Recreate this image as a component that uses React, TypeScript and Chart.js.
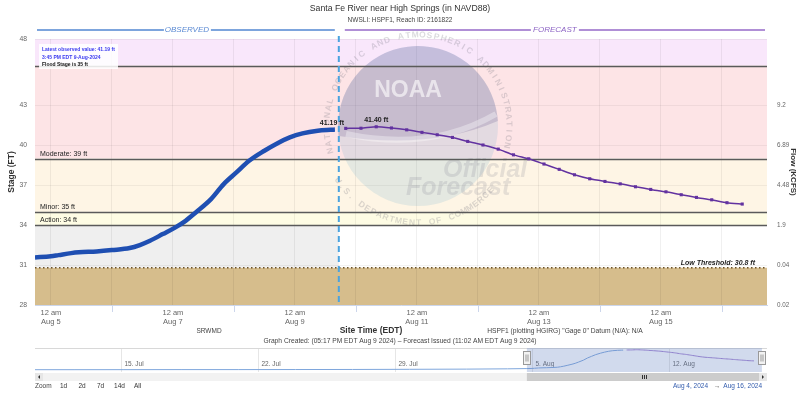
import React, { useEffect, useRef } from "react";
import { Chart, registerables } from "chart.js";
Chart.register(...registerables);

const FONT = '"Liberation Sans", Arial, Helvetica, sans-serif';
Chart.defaults.font.family = FONT;

// hours from 12 am Aug 5 2024 (EDT)
const obsHours = [-6.25, 0, 3, 8, 11, 18, 24, 31, 35, 39, 44, 49, 53, 57, 63, 68, 73, 78, 84, 89, 94, 99, 105, 110, 111.75];
const obsStage = [31.58, 31.66, 31.75, 31.9, 31.96, 32.03, 32.13, 32.28, 32.51, 32.83, 33.33, 33.84, 34.33, 34.96, 35.96, 37.09, 37.97, 38.84, 39.6, 40.15, 40.6, 40.9, 41.1, 41.17, 41.19];
const fcstHours = [116, 122, 128, 134, 140, 146, 152, 158, 164, 170, 176, 182, 188, 194, 200, 206, 212, 218, 224, 230, 236, 242, 248, 254, 260, 266, 272];
const fcstStage = [41.28, 41.29, 41.4, 41.31, 41.17, 40.98, 40.8, 40.6, 40.3, 40.03, 39.72, 39.29, 38.99, 38.6, 38.2, 37.79, 37.49, 37.29, 37.11, 36.89, 36.69, 36.51, 36.29, 36.09, 35.91, 35.69, 35.59];
const navHistHours = [-609, -560, -500, -430, -360, -290, -220, -150, -80, -30];
const navHistStage = [31.0, 31.0, 31.02, 31.05, 31.05, 31.08, 31.12, 31.2, 31.3, 31.45];

const stageTicks = [28, 31, 34, 37, 40, 43, 48];
const flowTicks = [28, 31, 34, 37, 40, 43];
const flowLabels = ["0.02", "0.04", "1.9", "4.48", "6.89", "9.2"];
const dayTickHours = [0, 24, 48, 72, 96, 120, 144, 168, 192, 216, 240, 264];
const dayTickLabels: (string | string[])[] = [
  ["12 am", "Aug 5"], "", ["12 am", "Aug 7"], "", ["12 am", "Aug 9"], "",
  ["12 am", "Aug 11"], "", ["12 am", "Aug 13"], "", ["12 am", "Aug 15"], "",
];
const navTickHours = [-504, -336, -168, 0, 168];
const navTickLabels = ["15. Jul", "22. Jul", "29. Jul", "5. Aug", "12. Aug"];

const xMin = -6.25;
const xMax = 281.75;
const navMin = -609;
const navMax = 288;
const navYMin = 29.8;
const navYMax = 42.3;
const issuedHour = 113.28;

const bands = [
  { from: 46, to: 48, color: "#f9e7fb" },
  { from: 39, to: 46, color: "#fde4e6" },
  { from: 35, to: 39, color: "#fef5e5" },
  { from: 34, to: 35, color: "#fefce4" },
  { from: 28, to: 30.8, color: "#d6bd8c" },
];
const stageLines = [
  { value: 46, label: "" },
  { value: 39, label: "Moderate: 39 ft" },
  { value: 35, label: "Minor: 35 ft" },
  { value: 34, label: "Action: 34 ft" },
];
const lowThreshold = 30.8;
const actionStage = 34;

function txt(ctx: CanvasRenderingContext2D, s: string, x: number, y: number, font: string, color: string, align: CanvasTextAlign = "left") {
  ctx.font = font;
  ctx.fillStyle = color;
  ctx.textAlign = align;
  ctx.textBaseline = "middle";
  ctx.fillText(s, x, y);
}

function arcText(ctx: CanvasRenderingContext2D, s: string, cx: number, cy: number, r: number, a0: number, a1: number, outward: boolean) {
  const n = s.length;
  for (let i = 0; i < n; i++) {
    const a = a0 + ((a1 - a0) * (i + 0.5)) / n;
    ctx.save();
    ctx.translate(cx + r * Math.cos(a), cy + r * Math.sin(a));
    ctx.rotate(outward ? a + Math.PI / 2 : a - Math.PI / 2);
    ctx.fillText(s[i], 0, 0);
    ctx.restore();
  }
}

function drawWatermark(ctx: CanvasRenderingContext2D) {
  const cx = 418, cy = 126;
  ctx.save();
  ctx.beginPath();
  ctx.arc(cx, cy, 80, 0, Math.PI * 2);
  ctx.fillStyle = "rgba(80,160,200,0.15)";
  ctx.fill();
  ctx.beginPath();
  ctx.arc(cx, cy, 80, Math.PI * 0.96, Math.PI * 1.98);
  ctx.quadraticCurveTo(430, 150, cx - 79, cy + 10);
  ctx.closePath();
  ctx.fillStyle = "rgba(90,70,130,0.2)";
  ctx.fill();
  ctx.strokeStyle = "rgba(255,255,255,0.35)";
  ctx.lineWidth = 6;
  ctx.beginPath();
  ctx.moveTo(cx - 72, cy + 8);
  ctx.quadraticCurveTo(430, 152, cx + 78, cy - 12);
  ctx.stroke();
  ctx.font = "bold 23px " + FONT;
  ctx.fillStyle = "rgba(255,255,255,0.6)";
  ctx.textAlign = "center";
  ctx.textBaseline = "middle";
  ctx.fillText("NOAA", 408, 91);
  ctx.font = "bold 8.5px " + FONT;
  ctx.fillStyle = "rgba(110,110,125,0.25)";
  arcText(ctx, "NATIONAL OCEANIC AND ATMOSPHERIC ADMINISTRATION", cx, cy, 91, Math.PI * 0.9, Math.PI * 2.08, true);
  arcText(ctx, "U.S. DEPARTMENT OF COMMERCE", cx, cy, 97, Math.PI * 0.82, Math.PI * 0.22, false);
  ctx.font = "italic bold 25px " + FONT;
  ctx.fillStyle = "rgba(130,130,145,0.2)";
  ctx.textAlign = "left";
  ctx.textBaseline = "alphabetic";
  ctx.fillText("Official", 443, 177);
  ctx.fillText("Forecast", 406, 195);
  ctx.restore();
}

const mainPlugin = {
  id: "hydro",
  beforeDraw(chart: any) {
    const { ctx, chartArea: a, scales } = chart;
    const y = scales.y, x = scales.x;
    ctx.save();
    ctx.fillStyle = "#ffffff";
    ctx.fillRect(0, 0, chart.width, chart.height);
    bands.forEach((b) => {
      const t = y.getPixelForValue(b.to), bt = y.getPixelForValue(b.from);
      ctx.fillStyle = b.color;
      ctx.fillRect(a.left, t, a.right - a.left, bt - t);
    });
    const xi = x.getPixelForValue(issuedHour);
    const t = y.getPixelForValue(actionStage), bt = y.getPixelForValue(lowThreshold);
    ctx.fillStyle = "#efefef";
    ctx.fillRect(a.left, t, xi - a.left, bt - t);
    ctx.restore();
  },
  beforeDatasetsDraw(chart: any) {
    const { ctx, chartArea: a, scales } = chart;
    const y = scales.y, x = scales.x;
    drawWatermark(ctx);
    ctx.save();
    stageLines.forEach((l) => {
      const py = Math.round(y.getPixelForValue(l.value)) + 0.5;
      ctx.strokeStyle = "#5a5a5a";
      ctx.lineWidth = 1.3;
      ctx.beginPath();
      ctx.moveTo(a.left, py);
      ctx.lineTo(a.right, py);
      ctx.stroke();
      if (l.label) txt(ctx, l.label, a.left + 5, py - 5, "7px " + FONT, "#222");
    });
    const ly = y.getPixelForValue(lowThreshold);
    ctx.strokeStyle = "#6b5228";
    ctx.lineWidth = 1.5;
    ctx.setLineDash([1.5, 2.5]);
    ctx.beginPath();
    ctx.moveTo(a.left, ly);
    ctx.lineTo(a.right, ly);
    ctx.stroke();
    ctx.setLineDash([]);
    txt(ctx, "Low Threshold: 30.8 ft", a.right - 12, ly - 5, "italic bold 7px " + FONT, "#222", "right");
    // odd-day tick marks
    ctx.strokeStyle = "#ccd6eb";
    ctx.lineWidth = 1;
    dayTickHours.forEach((h, i) => {
      if (dayTickLabels[i] !== "") return;
      const px = Math.round(x.getPixelForValue(h)) + 0.5;
      ctx.beginPath();
      ctx.moveTo(px, a.bottom);
      ctx.lineTo(px, a.bottom + 7);
      ctx.stroke();
    });
    ctx.restore();
  },
  afterDatasetsDraw(chart: any) {
    const { ctx, chartArea: a, scales } = chart;
    const y = scales.y, x = scales.x;
    ctx.save();
    const xi = x.getPixelForValue(issuedHour);
    ctx.strokeStyle = "#4aa3df";
    ctx.lineWidth = 2;
    ctx.setLineDash([6, 4]);
    ctx.beginPath();
    ctx.moveTo(xi, 36);
    ctx.lineTo(xi, a.bottom);
    ctx.stroke();
    ctx.setLineDash([]);
    const lo = obsStage.length - 1;
    txt(ctx, obsStage[lo].toFixed(2) + " ft", x.getPixelForValue(obsHours[lo]) - 3, y.getPixelForValue(obsStage[lo]) - 7, "bold 7px " + FONT, "#222", "center");
    let pk = 0;
    fcstStage.forEach((v, i) => { if (v > fcstStage[pk]) pk = i; });
    txt(ctx, fcstStage[pk].toFixed(2) + " ft", x.getPixelForValue(fcstHours[pk]), y.getPixelForValue(fcstStage[pk]) - 7, "bold 7px " + FONT, "#222", "center");
    ctx.fillStyle = "rgba(255,255,255,0.85)";
    ctx.fillRect(a.left + 4, 44, 79, 25);
    txt(ctx, "Latest observed value: " + obsStage[lo].toFixed(2) + " ft", a.left + 7, 50, "bold 5px " + FONT, "#3b3bf0");
    txt(ctx, "3:45 PM EDT 9-Aug-2024", a.left + 7, 57.5, "bold 5px " + FONT, "#3b3bf0");
    txt(ctx, "Flood Stage is 35 ft", a.left + 7, 64.5, "bold 5px " + FONT, "#111");
    ctx.restore();
  },
  afterDraw(chart: any) {
    const { ctx, chartArea: a, scales } = chart;
    const x = scales.x;
    ctx.save();
    txt(ctx, "Santa Fe River near High Springs (in NAVD88)", 400, 9, "8.7px " + FONT, "#333", "center");
    txt(ctx, "NWSLI: HSPF1, Reach ID: 2161822", 400, 20, "6.5px " + FONT, "#444", "center");
    const xi = x.getPixelForValue(issuedHour);
    const oc = (a.left + xi) / 2;
    ctx.lineWidth = 2;
    ctx.strokeStyle = "#7da5dd";
    ctx.beginPath();
    ctx.moveTo(a.left + 2, 30); ctx.lineTo(oc - 23, 30);
    ctx.moveTo(oc + 24, 30); ctx.lineTo(xi - 4, 30);
    ctx.stroke();
    txt(ctx, "OBSERVED", oc, 30, "italic 8px " + FONT, "#5b8ad3", "center");
    const fc = (xi + a.right) / 2;
    ctx.strokeStyle = "#b08fd6";
    ctx.beginPath();
    ctx.moveTo(xi + 6, 30); ctx.lineTo(fc - 22, 30);
    ctx.moveTo(fc + 26, 30); ctx.lineTo(a.right - 2, 30);
    ctx.stroke();
    txt(ctx, "FORECAST", fc + 2, 30, "italic 8px " + FONT, "#8c63c4", "center");
    txt(ctx, "SRWMD", 209, 331, "6.5px " + FONT, "#444", "center");
    txt(ctx, "Site Time (EDT)", 371, 331, "bold 8.5px " + FONT, "#333", "center");
    txt(ctx, 'HSPF1 (plotting HGIRG) "Gage 0" Datum (N/A): N/A', 565, 331, "6.7px " + FONT, "#444", "center");
    txt(ctx, "Graph Created: (05:17 PM EDT Aug 9 2024) \u2013 Forecast Issued (11:02 AM EDT Aug 9 2024)", 400, 341, "6.7px " + FONT, "#444", "center");
    const s0 = 35 + ((xMin - navMin) / (navMax - navMin)) * 732;
    const s1 = 35 + ((xMax - navMin) / (navMax - navMin)) * 732;
    ctx.fillStyle = "#f2f2f2";
    ctx.fillRect(35, 373, 732, 8);
    ctx.fillStyle = "#cccccc";
    ctx.fillRect(s0, 373, s1 - s0, 8);
    ctx.fillStyle = "#e6e6e6";
    ctx.fillRect(35, 373, 8, 8);
    ctx.fillRect(759, 373, 8, 8);
    ctx.fillStyle = "#333";
    ctx.beginPath(); ctx.moveTo(40, 375); ctx.lineTo(40, 379); ctx.lineTo(38, 377); ctx.fill();
    ctx.beginPath(); ctx.moveTo(762, 375); ctx.lineTo(762, 379); ctx.lineTo(764, 377); ctx.fill();
    ctx.strokeStyle = "#333";
    ctx.lineWidth = 1;
    const sm = Math.round((s0 + s1) / 2);
    [-2, 0, 2].forEach((d) => { ctx.beginPath(); ctx.moveTo(sm + d + 0.5, 375); ctx.lineTo(sm + d + 0.5, 379); ctx.stroke(); });
    const zf = "6.5px " + FONT;
    txt(ctx, "Zoom", 35, 386, zf, "#444");
    txt(ctx, "1d", 63.5, 386, zf, "#333", "center");
    txt(ctx, "2d", 82, 386, zf, "#333", "center");
    txt(ctx, "7d", 100.5, 386, zf, "#333", "center");
    txt(ctx, "14d", 119.5, 386, zf, "#333", "center");
    txt(ctx, "All", 137.5, 386, zf, "#333", "center");
    txt(ctx, "Aug 4, 2024", 708, 386, zf, "#335cad", "right");
    txt(ctx, "\u2192", 717, 386, zf, "#444", "center");
    txt(ctx, "Aug 16, 2024", 762, 386, zf, "#335cad", "right");
    ctx.restore();
  },
};

const navPlugin = {
  id: "nav",
  beforeDraw(chart: any) {
    const { ctx, chartArea: a, scales } = chart;
    const x = scales.x;
    ctx.save();
    ctx.strokeStyle = "#e6e6e6";
    ctx.lineWidth = 1;
    navTickHours.forEach((h, i) => {
      const px = Math.round(x.getPixelForValue(h)) + 0.5;
      ctx.beginPath(); ctx.moveTo(px, a.top); ctx.lineTo(px, a.bottom); ctx.stroke();
      txt(ctx, navTickLabels[i], px + 3, 16.5, "6.5px " + FONT, "#666");
    });
    ctx.strokeStyle = "#d8d8d8";
    ctx.beginPath(); ctx.moveTo(a.left, 0.5); ctx.lineTo(a.right, 0.5); ctx.stroke();
    ctx.restore();
  },
  afterDatasetsDraw(chart: any) {
    const { ctx, chartArea: a, scales } = chart;
    const x = scales.x;
    const s0 = x.getPixelForValue(xMin), s1 = x.getPixelForValue(xMax);
    ctx.save();
    ctx.fillStyle = "rgba(102,133,194,0.3)";
    ctx.fillRect(s0, a.top, s1 - s0, a.bottom - a.top);
    [s0, s1].forEach((sx) => {
      const hx = Math.round(sx - 3.5) + 0.5;
      ctx.fillStyle = "#f2f2f2";
      ctx.strokeStyle = "#999";
      ctx.lineWidth = 1;
      ctx.fillRect(hx, 3.5, 7, 13);
      ctx.strokeRect(hx, 3.5, 7, 13);
      ctx.beginPath();
      ctx.moveTo(hx + 2.5, 6.5); ctx.lineTo(hx + 2.5, 13.5);
      ctx.moveTo(hx + 4.5, 6.5); ctx.lineTo(hx + 4.5, 13.5);
      ctx.stroke();
    });
    ctx.restore();
  },
};

export default function App() {
  const mainRef = useRef<HTMLCanvasElement>(null);
  const navRef = useRef<HTMLCanvasElement>(null);

  useEffect(() => {
    const obsData = obsHours.map((h, i) => ({ x: h, y: obsStage[i] }));
    const fcstData = fcstHours.map((h, i) => ({ x: h, y: fcstStage[i] }));
    const main = new Chart(mainRef.current as HTMLCanvasElement, {
      type: "line",
      data: {
        datasets: [
          {
            label: "Observed",
            data: obsData,
            borderColor: "#1f4fb2",
            borderWidth: 4.5,
            pointRadius: 0,
            cubicInterpolationMode: "monotone",
            yAxisID: "y",
          },
          {
            label: "Forecast",
            data: fcstData,
            borderColor: "#6232a0",
            backgroundColor: "#6232a0",
            borderWidth: 1.5,
            pointStyle: "rect",
            pointRadius: 2.2,
            pointBackgroundColor: "#6232a0",
            pointBorderWidth: 0,
            tension: 0.2,
            yAxisID: "y",
          },
        ],
      },
      options: {
        animation: false,
        responsive: false,
        events: [],
        layout: { padding: { top: 39, left: 0, right: 0, bottom: 0 } },
        plugins: { legend: { display: false }, tooltip: { enabled: false } },
        scales: {
          x: {
            type: "linear",
            min: xMin,
            max: xMax,
            afterBuildTicks: (s: any) => { s.ticks = dayTickHours.map((v) => ({ value: v })); },
            afterFit: (s: any) => { s.height = 95; },
            ticks: {
              autoSkip: false,
              maxRotation: 0,
              color: "#666",
              font: { size: 7.5, lineHeight: 1.15 },
              padding: 4,
              callback: (_v: any, i: number) => dayTickLabels[i],
            },
            grid: { color: "rgba(0,0,0,0.06)", drawTicks: false },
            border: { display: true, color: "#ccd6eb" },
          },
          y: {
            position: "left",
            min: 28,
            max: 48,
            afterBuildTicks: (s: any) => { s.ticks = stageTicks.map((v) => ({ value: v })); },
            afterFit: (s: any) => { s.width = 35; },
            ticks: { color: "#666", font: { size: 6.8 }, padding: 8 },
            grid: { color: "rgba(0,0,0,0.05)", drawTicks: false },
            border: { display: false },
            title: { display: true, text: "Stage (FT)", color: "#333", font: { size: 8.5, weight: "bold" }, padding: { top: 7, bottom: 0 } },
          },
          y2: {
            position: "right",
            min: 28,
            max: 48,
            afterBuildTicks: (s: any) => { s.ticks = flowTicks.map((v) => ({ value: v })); },
            afterFit: (s: any) => { s.width = 33; },
            ticks: { color: "#666", font: { size: 6.3 }, padding: 10, callback: (_v: any, i: number) => flowLabels[i] },
            grid: { display: false, drawTicks: false },
            border: { display: false },
            title: { display: true, text: "Flow (KCFS)", color: "#333", font: { size: 8, weight: "bold" }, padding: { top: 2, bottom: 0 } },
          },
        },
      },
      plugins: [mainPlugin],
    } as any);

    const navObs = navHistHours.map((h, i) => ({ x: h, y: navHistStage[i] })).concat(obsData);
    const nav = new Chart(navRef.current as HTMLCanvasElement, {
      type: "line",
      data: {
        datasets: [
          { data: navObs, borderColor: "#7ea6dc", borderWidth: 1, pointRadius: 0, cubicInterpolationMode: "monotone" },
          { data: fcstData, borderColor: "#a07fd0", borderWidth: 1, pointRadius: 0, tension: 0.2 },
        ],
      },
      options: {
        animation: false,
        responsive: false,
        events: [],
        layout: { padding: 0 },
        plugins: { legend: { display: false }, tooltip: { enabled: false } },
        scales: {
          x: { type: "linear", display: false, min: navMin, max: navMax },
          y: { display: false, min: navYMin, max: navYMax },
        },
      },
      plugins: [navPlugin],
    } as any);

    return () => {
      main.destroy();
      nav.destroy();
    };
  }, []);

  return (
    <div style={{ position: "absolute", left: 0, top: 0, width: 800, height: 400, background: "#fff" }}>
      <canvas ref={mainRef} width={800} height={400} style={{ position: "absolute", left: 0, top: 0, width: 800, height: 400 }} />
      <canvas ref={navRef} width={732} height={24} style={{ position: "absolute", left: 35, top: 348, width: 732, height: 24 }} />
    </div>
  );
}
